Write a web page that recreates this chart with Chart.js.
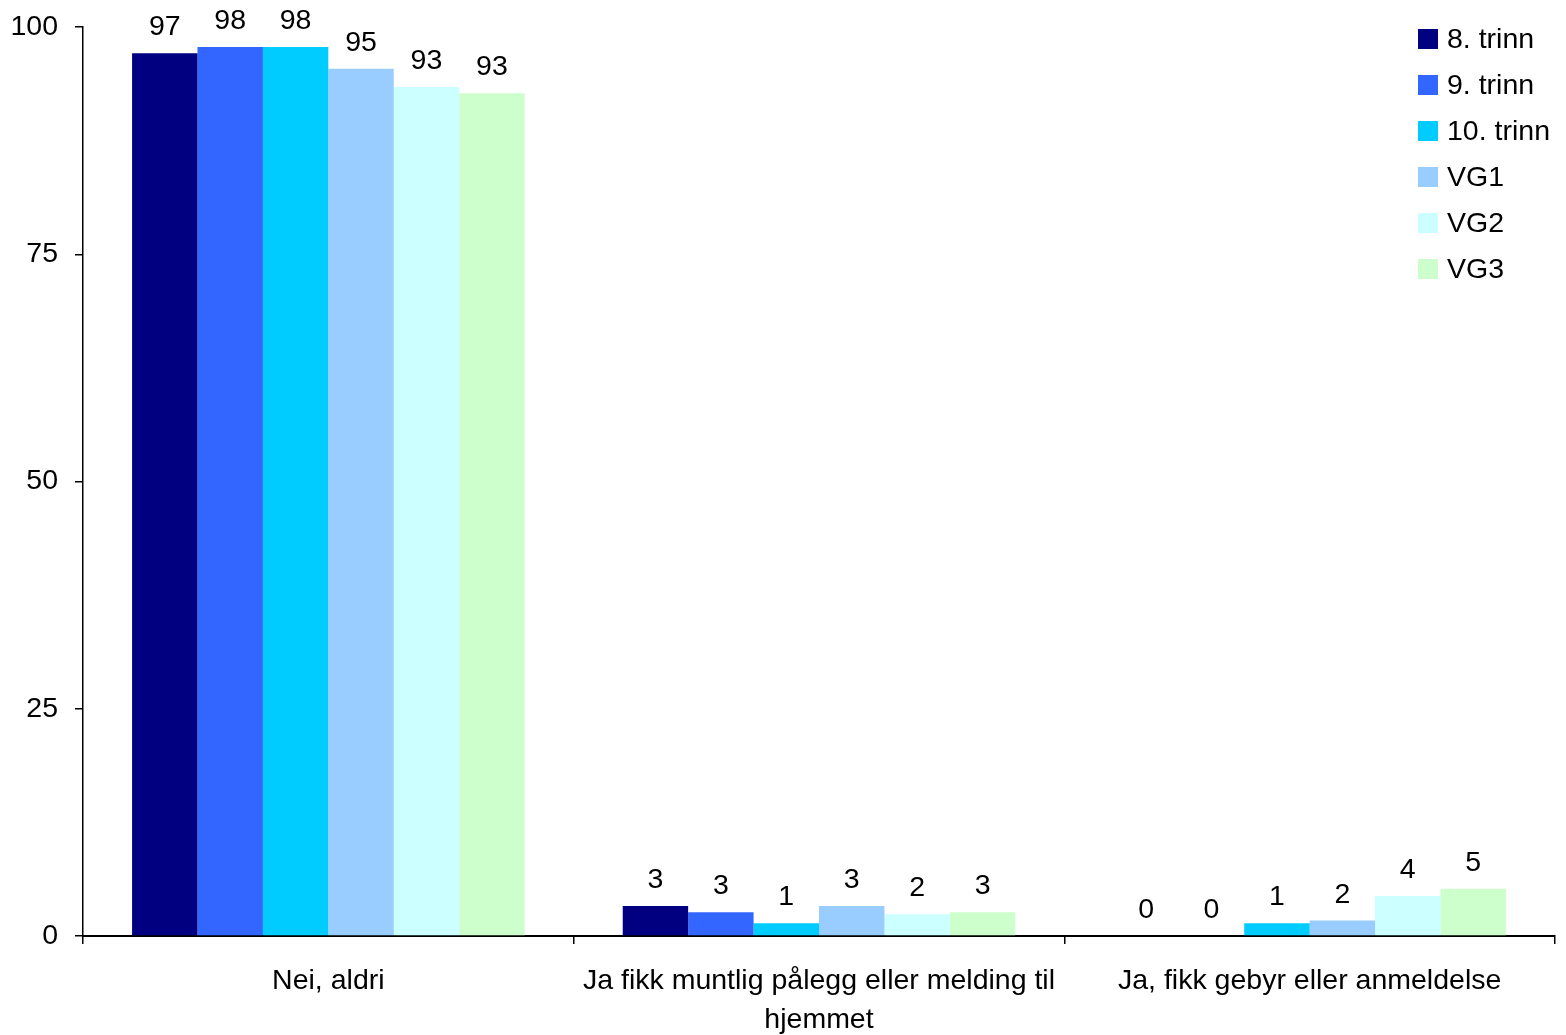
<!DOCTYPE html>
<html><head><meta charset="utf-8">
<script src="https://cdn.jsdelivr.net/npm/chart.js@4"></script>
<style>html,body{margin:0;padding:0;background:#fff}#wrap{width:1566px;height:1035px}</style>
</head><body><div id="wrap"><canvas id="c" width="1566" height="1035"></canvas></div>
<script>
const categories = [["Nei, aldri"], ["Ja fikk muntlig pålegg eller melding til", "hjemmet"], ["Ja, fikk gebyr eller anmeldelse"]];
const seriesNames = ["8. trinn", "9. trinn", "10. trinn", "VG1", "VG2", "VG3"];
const seriesColors = ["#000080", "#3366FF", "#00CCFF", "#99CCFF", "#CCFFFF", "#CCFFCC"];
const trinn8 = [97.1, 3.3, 0];
const trinn9 = [97.8, 2.6, 0];
const trinn10 = [97.8, 1.4, 1.4];
const vg1 = [95.4, 3.3, 1.7];
const vg2 = [93.4, 2.4, 4.4];
const vg3 = [92.7, 2.6, 5.2];
const yTicks = [0, 25, 50, 75, 100];

const FONT = "'Liberation Sans', Arial, sans-serif";
const FS = 28.5;
const seriesValues = [trinn8, trinn9, trinn10, vg1, vg2, vg3];

const valueLabels = {
  id: 'valueLabels',
  afterDatasetsDraw(chart) {
    const ctx = chart.ctx;
    ctx.save();
    ctx.font = FS + "px " + FONT;
    ctx.fillStyle = "#000";
    ctx.textAlign = "center";
    ctx.textBaseline = "alphabetic";
    chart.data.datasets.forEach((ds, i) => {
      const meta = chart.getDatasetMeta(i);
      meta.data.forEach((bar, j) => {
        ctx.fillText(String(Math.round(ds.data[j])), bar.x, bar.y - 18);
      });
    });
    ctx.restore();
  }
};

const customLegend = {
  id: 'customLegend',
  afterDraw(chart) {
    const ctx = chart.ctx;
    ctx.save();
    ctx.font = FS + "px " + FONT;
    ctx.textBaseline = "middle";
    ctx.textAlign = "left";
    chart.data.datasets.forEach((ds, i) => {
      const cy = 39 + i * 46;
      ctx.fillStyle = ds.backgroundColor;
      ctx.fillRect(1418, cy - 10, 20, 20);
      ctx.fillStyle = "#000";
      ctx.fillText(ds.label, 1447, cy + 1);
    });
    ctx.restore();
  }
};

new Chart(document.getElementById('c'), {
  type: 'bar',
  data: {
    labels: categories,
    datasets: seriesNames.map((n, i) => ({
      label: n,
      data: seriesValues[i],
      backgroundColor: seriesColors[i],
      borderWidth: 0,
      categoryPercentage: 0.8,
      barPercentage: 1.0
    }))
  },
  options: {
    responsive: false,
    animation: false,
    layout: { padding: { top: 27, right: 11, left: 0, bottom: 0 } },
    plugins: { legend: { display: false }, tooltip: { enabled: false } },
    scales: {
      x: {
        grid: { offset: true, drawOnChartArea: false, drawTicks: true, tickLength: 8, color: "#000", lineWidth: 1.5 },
        border: { color: "#000", width: 2 },
        ticks: { color: "#000", font: { family: FONT, size: FS, lineHeight: 1.35 }, padding: 18, maxRotation: 0, autoSkip: false },
        afterFit(scale) { scale.height = 99; scale.paddingLeft = 0; scale.paddingRight = 0; }
      },
      y: {
        min: 0, max: 100,
        afterBuildTicks(scale) { scale.ticks = yTicks.map(v => ({ value: v })); },
        grid: { drawOnChartArea: false, drawTicks: true, tickLength: 8, color: "#000", lineWidth: 1.5 },
        border: { color: "#000", width: 1.5 },
        ticks: { color: "#000", font: { family: FONT, size: FS }, padding: 17 },
        afterFit(scale) { scale.width = 83; scale.paddingTop = 0; scale.paddingBottom = 0; }
      }
    }
  },
  plugins: [valueLabels, customLegend]
});
</script>
</body></html>
